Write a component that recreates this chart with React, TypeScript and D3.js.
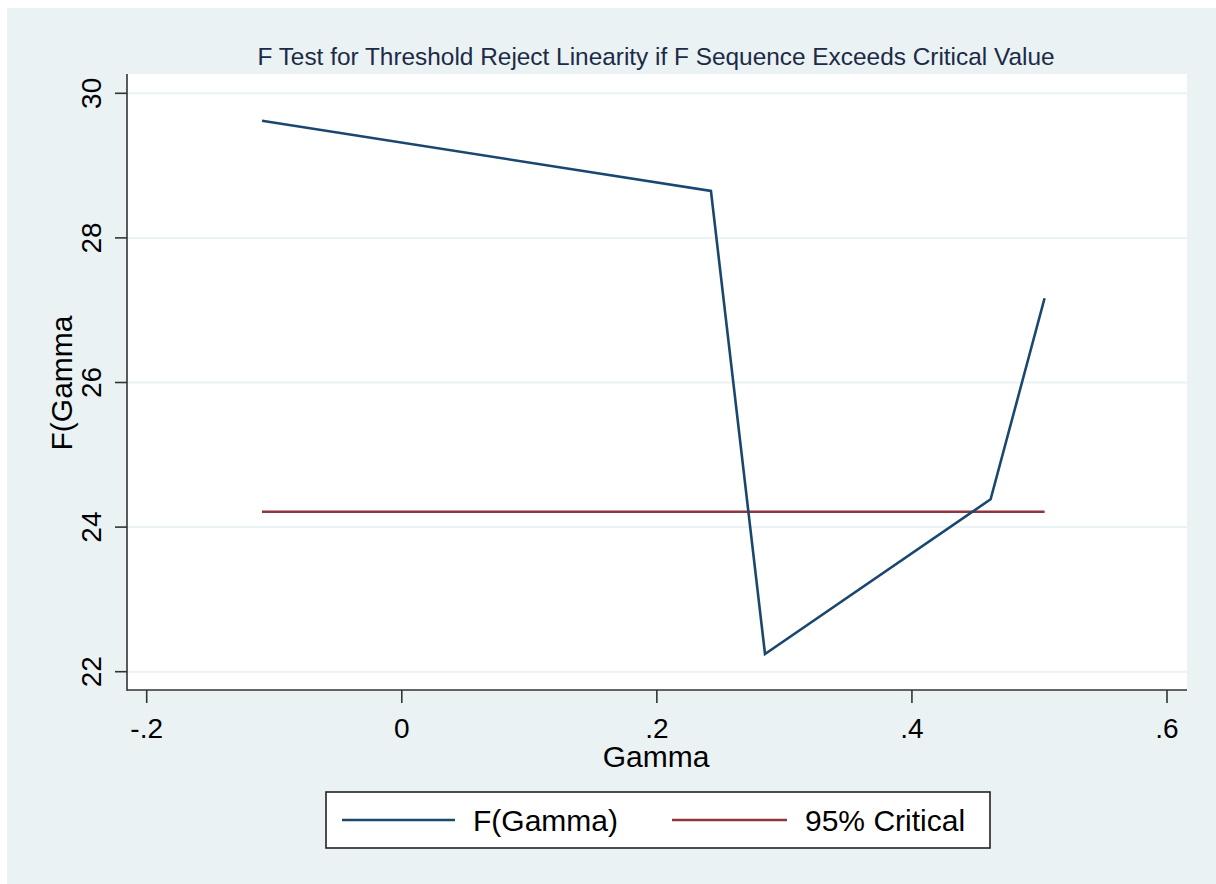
import React from 'react';
import * as d3 from 'd3';

// F sequence over the threshold grid
const gammaValues = [-0.1096, 0.2424, 0.2848, 0.4617, 0.504];
const fValues = [29.62, 28.65, 22.245, 24.385, 27.165];
const criticalValue = 24.213;
const xTicks = [-0.2, 0, 0.2, 0.4, 0.6];
const yTicks = [22, 24, 26, 28, 30];
const legendLabels = ['F(Gamma)', '95% Critical'];

const BG = '#eaf2f3';
const BLUE = '#1a476f';
const RED = '#90353b';
const FONT = 'Arial, "Liberation Sans", Helvetica, sans-serif';

// stata style: -.2, 0, .2 ...
const fmtX = (d: number) =>
  d === 0 ? '0' : d3.format('.1f')(d).replace('\u2212', '-').replace('0.', '.');

const App = () => {
  const width = 1216;
  const height = 884;

  // plot region
  const left = 127;
  const right = 1187;
  const top = 74;
  const bottom = 690;

  const x = d3.scaleLinear().domain([-0.2, 0.6]).range([146.7, 1167]);
  const y = d3.scaleLinear().domain([22, 30]).range([671.7, 93.3]);

  const pts = gammaValues.map((g, i) => [g, fValues[i]] as [number, number]);
  const line = d3.line<[number, number]>()
    .x(d => x(d[0]))
    .y(d => y(d[1]));

  const gMin = d3.min(gammaValues) as number;
  const gMax = d3.max(gammaValues) as number;

  return (
    <svg
      width={width}
      height={height}
      style={{ position: 'absolute', left: 0, top: 0 }}
      fontFamily={FONT}
    >
      <rect x={0} y={0} width={width} height={height} fill="#fff" />
      <rect x={7} y={8} width={width - 7} height={height - 8} fill={BG} />
      <rect x={left} y={top} width={right - left} height={bottom - top} fill="#fff" />

      {/* grid */}
      {yTicks.map(t => (
        <line key={'g' + t} x1={left} x2={right} y1={y(t)} y2={y(t)} stroke={BG} strokeWidth={2} />
      ))}

      {/* title */}
      <text x={656} y={65} textAnchor="middle" fontSize={24.4} fill="#1c2a48">
        F Test for Threshold Reject Linearity if F Sequence Exceeds Critical Value
      </text>

      {/* axes */}
      <line x1={left} x2={left} y1={top} y2={bottom + 0.75} stroke="#333" strokeWidth={1.6} />
      <line x1={left} x2={right} y1={bottom} y2={bottom} stroke="#333" strokeWidth={1.6} />

      {yTicks.map(t => (
        <g key={'y' + t}>
          <line x1={left - 12} x2={left} y1={y(t)} y2={y(t)} stroke="#333" strokeWidth={1.6} />
          <text
            transform={`translate(101, ${y(t)}) rotate(-90)`}
            textAnchor="middle"
            fontSize={28}
            fill="#000"
          >
            {t}
          </text>
        </g>
      ))}

      {xTicks.map(t => (
        <g key={'x' + t}>
          <line x1={x(t)} x2={x(t)} y1={bottom} y2={bottom + 13} stroke="#333" strokeWidth={1.6} />
          <text x={x(t)} y={738} textAnchor="middle" fontSize={28} fill="#000">
            {fmtX(t)}
          </text>
        </g>
      ))}

      {/* axis titles */}
      <text x={656} y={767} textAnchor="middle" fontSize={30} fill="#000">Gamma</text>
      <text transform="translate(72, 383) rotate(-90)" textAnchor="middle" fontSize={30} fill="#000">
        F(Gamma
      </text>

      {/* series */}
      <line
        x1={x(gMin)}
        x2={x(gMax)}
        y1={y(criticalValue)}
        y2={y(criticalValue)}
        stroke={RED}
        strokeWidth={2.6}
      />
      <path d={line(pts) ?? ''} fill="none" stroke={BLUE} strokeWidth={2.6} strokeLinejoin="miter" />

      {/* legend */}
      <rect x={326} y={792} width={664} height={56} fill="#fff" stroke="#222" strokeWidth={1.6} />
      <line x1={342} x2={455} y1={820} y2={820} stroke={BLUE} strokeWidth={2.6} />
      <text x={473} y={831} fontSize={30} fill="#000">{legendLabels[0]}</text>
      <line x1={672} x2={787} y1={820} y2={820} stroke={RED} strokeWidth={2.6} />
      <text x={805} y={831} fontSize={30} fill="#000">{legendLabels[1]}</text>
    </svg>
  );
};

export default App;
